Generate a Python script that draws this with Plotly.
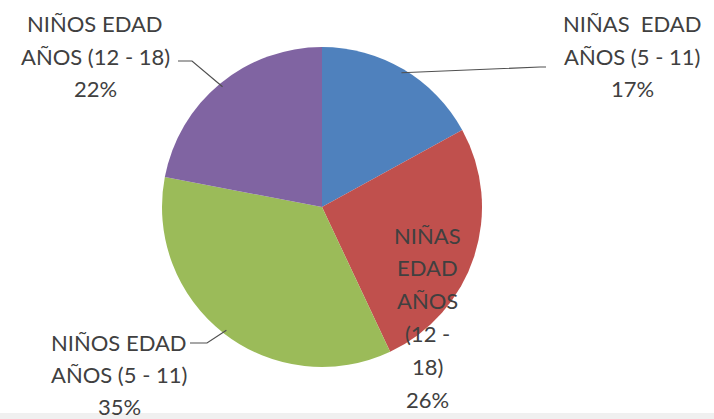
import math
import plotly.graph_objects as go

# Distribution of children by sex and age group
categories = [
    "NIÑAS  EDAD AÑOS (5 - 11)",
    "NIÑAS EDAD AÑOS (12 - 18)",
    "NIÑOS EDAD AÑOS (5 - 11)",
    "NIÑOS EDAD AÑOS (12 - 18)",
]
values = [17, 26, 35, 22]
colors = ["#4F81BD", "#C0504D", "#9BBB59", "#8064A2"]

# Wrapped label lines (name lines followed by percentage)
label_lines = [
    ["NIÑAS  EDAD", "AÑOS (5 - 11)"],
    ["NIÑAS", "EDAD", "AÑOS", "(12 -", "18)"],
    ["NIÑOS EDAD", "AÑOS (5 - 11)"],
    ["NIÑOS EDAD", "AÑOS (12 - 18)"],
]

W, H = 714, 419
CX, CY, R = 322, 207, 160          # pie centre and radius in pixels
TEXT = "#404040"
FONT = dict(family="Lato, 'Open Sans', sans-serif", size=22, color=TEXT)

# label block placement: (centre x, first line y, line spacing) in pixels
label_pos = [
    (632, 24, 32),
    (427, 235, 32.8),
    (119, 342, 32),
    (95, 24, 32),
]
# leader line elbow and end points (pixels); None where label sits inside slice
leader_pts = [
    [(540, 67), (546, 67)],
    None,
    [(207, 343), (190, 343)],
    [(192, 61), (178, 61)],
]


def px(x):
    return x / W


def py(y):
    return 1 - y / H


fig = go.Figure(
    go.Pie(
        labels=categories,
        values=values,
        sort=False,
        direction="clockwise",
        rotation=0,
        marker=dict(colors=colors, line=dict(width=0)),
        textinfo="none",
        hoverinfo="label+percent",
        showlegend=False,
        domain=dict(x=[px(CX - R), px(CX + R)], y=[py(CY + R), py(CY - R)]),
    )
)

total = sum(values)
annotations = []
shapes = []
cum = 0.0
for i, v in enumerate(values):
    mid = (cum + v / 2) / total * 360.0
    cum += v
    pct = f"{round(v / total * 100)}%"
    lines = label_lines[i] + [pct]
    xc, y0, dy = label_pos[i]
    for k, txt in enumerate(lines):
        annotations.append(
            dict(
                x=px(xc), y=py(y0 + k * dy), xref="paper", yref="paper",
                text=txt, showarrow=False, xanchor="center", yanchor="middle",
                font=FONT,
            )
        )
    if leader_pts[i] is not None:
        a = math.radians(mid)
        sx = CX + (R - 4) * math.sin(a)
        sy = CY - (R - 4) * math.cos(a)
        pts = [(sx, sy)] + leader_pts[i]
        path = "M " + " L ".join(f"{px(x):.5f},{py(y):.5f}" for x, y in pts)
        shapes.append(
            dict(type="path", path=path, xref="paper", yref="paper",
                 line=dict(color="#505050", width=1.2))
        )

# thin grey strip along the bottom edge
shapes.append(
    dict(type="rect", xref="paper", yref="paper", x0=0, x1=1, y0=0, y1=py(413),
         fillcolor="#F0F0F0", line=dict(width=0), layer="below")
)

fig.update_layout(
    width=W,
    height=H,
    margin=dict(l=0, r=0, t=0, b=0),
    paper_bgcolor="white",
    plot_bgcolor="white",
    annotations=annotations,
    shapes=shapes,
)

fig.write_html("out.html")
